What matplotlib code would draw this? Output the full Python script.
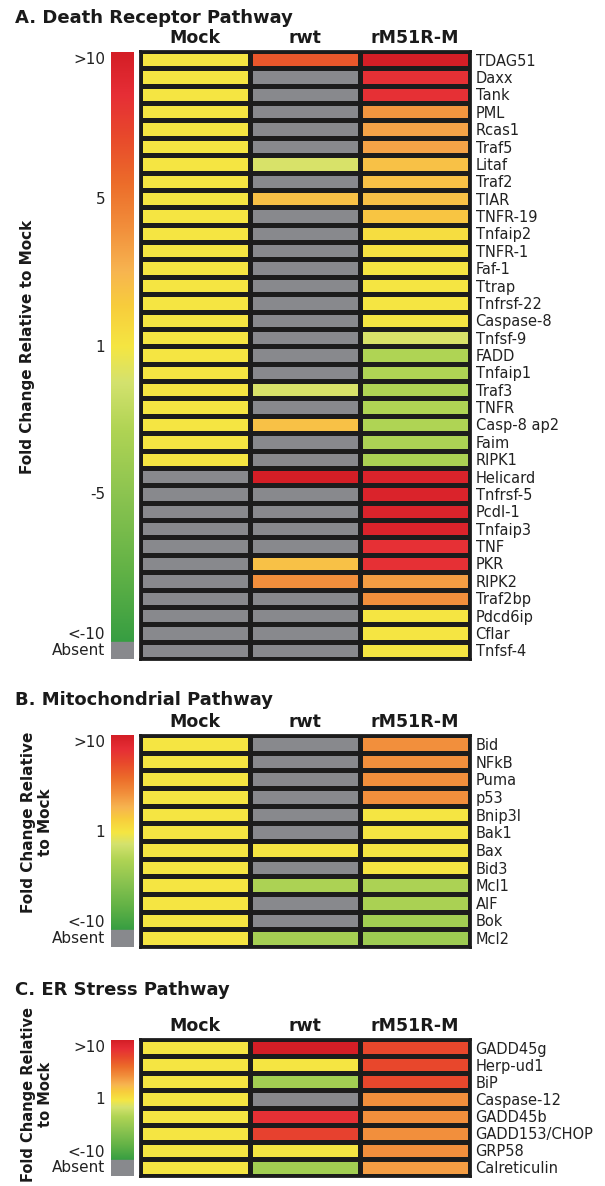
import numpy as np
import matplotlib
matplotlib.use('Agg')
import matplotlib.pyplot as plt
from matplotlib.colors import LinearSegmentedColormap
from matplotlib.patches import Rectangle

nan = np.nan

# fold change relative to mock (nan = absent)
columns = ['Mock', 'rwt', 'rM51R-M']

death_genes = ['TDAG51', 'Daxx', 'Tank', 'PML', 'Rcas1', 'Traf5', 'Litaf', 'Traf2',
               'TIAR', 'TNFR-19', 'Tnfaip2', 'TNFR-1', 'Faf-1', 'Ttrap', 'Tnfrsf-22',
               'Caspase-8', 'Tnfsf-9', 'FADD', 'Tnfaip1', 'Traf3', 'TNFR', 'Casp-8 ap2',
               'Faim', 'RIPK1', 'Helicard', 'Tnfrsf-5', 'Pcdl-1', 'Tnfaip3', 'TNF', 'PKR',
               'RIPK2', 'Traf2bp', 'Pdcd6ip', 'Cflar', 'Tnfsf-4']
death_mock = [1] * 24 + [nan] * 11
death_rwt = [6.5, nan, nan, nan, nan, nan, -0.3, nan, 2.6, nan, nan, nan, nan, nan, nan,
             nan, nan, nan, nan, -0.3, nan, 2.6, nan, nan, 10, nan, nan, nan, nan, 2.6,
             4.2, nan, nan, nan, nan]
death_m51r = [10, 8.5, 8.5, 4.0, 3.6, 3.6, 2.6, 2.6, 2.6, 2.4, 1.4, 1.2, 1, 1, 1,
              1, -0.3, -2.4, -2.4, -2.4, -2.4, -2.4, -2.6, -2.8, 9.5, 9.5, 9.5, 9.5, 8.5, 8.5,
              3.8, 4.2, 1, 1, 1]

mito_genes = ['Bid', 'NFkB', 'Puma', 'p53', 'Bnip3l', 'Bak1', 'Bax', 'Bid3', 'Mcl1',
              'AIF', 'Bok', 'Mcl2']
mito_mock = [1] * 12
mito_rwt = [nan, nan, nan, nan, nan, nan, 1, nan, -2.6, nan, nan, -3.2]
mito_m51r = [4.2, 4.2, 4.2, 4.2, 1, 1, 1, 1, -2.6, -2.8, -3.4, -3.6]

er_genes = ['GADD45g', 'Herp-ud1', 'BiP', 'Caspase-12', 'GADD45b', 'GADD153/CHOP',
            'GRP58', 'Calreticulin']
er_mock = [1] * 8
er_rwt = [10, 1, -3.4, nan, 8.5, 7.5, 1, -3.4]
er_m51r = [7.2, 7.2, 7.2, 4.2, 4.2, 4.2, 4.2, 3.8]

fc_ticks = [-10, -5, 1, 5, 10]
bar_pos = [0, 0.25, 0.5, 0.75, 1]

cmap = LinearSegmentedColormap.from_list('fold', [
    (0.00, (55/255, 158/255, 66/255)),
    (0.12, (98/255, 178/255, 70/255)),
    (0.25, (140/255, 196/255, 80/255)),
    (0.36, (176/255, 212/255, 84/255)),
    (0.44, (212/255, 226/255, 110/255)),
    (0.50, (245/255, 230/255, 66/255)),
    (0.57, (248/255, 205/255, 60/255)),
    (0.63, (247/255, 180/255, 80/255)),
    (0.70, (242/255, 144/255, 60/255)),
    (0.78, (236/255, 108/255, 42/255)),
    (0.86, (232/255, 72/255, 44/255)),
    (0.93, (230/255, 46/255, 54/255)),
    (1.00, (212/255, 30/255, 38/255))])
cmap.set_bad('#88898d')
absent_col = '#88898d'
txt_col = '#222222'

W, H = 605, 1186
fig = plt.figure(figsize=(W / 100, H / 100), dpi=100)


def box(x0, y0, x1, y1):
    return [x0 / W, 1 - y1 / H, (x1 - x0) / W, (y1 - y0) / H]


def to_bar(vals):
    v = np.array(vals, dtype=float)
    out = np.interp(np.nan_to_num(v), fc_ticks, bar_pos)
    return np.where(np.isnan(v), nan, out)


def heatmap(top, bottom, genes, mock, rwt, m51r):
    ax = fig.add_axes(box(140, top, 470, bottom))
    data = np.ma.masked_invalid(np.column_stack([to_bar(mock), to_bar(rwt), to_bar(m51r)]))
    n = len(genes)
    ax.pcolormesh(np.arange(4), np.arange(n + 1), data, cmap=cmap, vmin=0, vmax=1,
                  edgecolors='#1c1c1c', linewidth=2.2)
    ax.set_xlim(0, 3)
    ax.set_ylim(n, 0)
    ax.xaxis.tick_top()
    ax.set_xticks(np.arange(3) + 0.5, columns, fontweight='bold', fontsize=12.5, color='#1a1a1a')
    ax.yaxis.tick_right()
    ax.set_yticks(np.arange(n) + 0.5, genes, fontsize=10.5, color=txt_col)
    ax.tick_params(length=0, pad=3)
    ax.tick_params(axis='y', pad=4)
    for s in ax.spines.values():
        s.set_linewidth(2)
        s.set_color('#1c1c1c')
    return ax


def bar(top, grad_bottom, bottom, ticks):
    cax = fig.add_axes(box(111, top, 134, bottom))
    a = (bottom - grad_bottom) / (grad_bottom - top)
    cax.imshow(np.linspace(0, 1, 256)[:, None], aspect='auto', cmap=cmap,
               extent=[0, 1, 0, 1], origin='lower')
    cax.add_patch(Rectangle((0, -a), 1, a, color=absent_col))
    cax.set_xlim(0, 1)
    cax.set_ylim(-a, 1)
    cax.axis('off')
    tr = cax.get_yaxis_transform()
    for t in ticks:
        p = float(to_bar([t])[0])
        if t == 10:
            cax.text(-0.26, p, '>10', transform=tr, ha='right', va='top', fontsize=11, color=txt_col)
        elif t == -10:
            cax.text(-0.26, p, '<-10', transform=tr, ha='right', va='bottom', fontsize=11, color=txt_col)
        else:
            cax.text(-0.26, p, str(t), transform=tr, ha='right', va='center', fontsize=11, color=txt_col)
    cax.text(-0.26, -a / 2, 'Absent', transform=tr, ha='right', va='center', fontsize=11, color=txt_col)


# A. Death receptor
fig.text(15 / W, 1 - 18 / H, 'A. Death Receptor Pathway', fontsize=13, fontweight='bold',
         va='center', color='#1a1a1a')
heatmap(51, 659, death_genes, death_mock, death_rwt, death_m51r)
bar(52, 642, 659, [10, 5, 1, -5, -10])
fig.text(28 / W, 1 - 347 / H, 'Fold Change Relative to Mock', rotation=90, fontsize=11,
         fontweight='bold', ha='center', va='center', color='#1a1a1a')

# B. Mitochondrial
fig.text(15 / W, 1 - 700 / H, 'B. Mitochondrial Pathway', fontsize=13, fontweight='bold',
         va='center', color='#1a1a1a')
heatmap(735, 947, mito_genes, mito_mock, mito_rwt, mito_m51r)
bar(735, 930, 947, [10, 1, -10])
fig.text(37 / W, 1 - 822 / H, 'Fold Change Relative\nto Mock', rotation=90, fontsize=11,
         fontweight='bold', ha='center', va='center', multialignment='center', color='#1a1a1a')

# C. ER stress
fig.text(15 / W, 1 - 990 / H, 'C. ER Stress Pathway', fontsize=13, fontweight='bold',
         va='center', color='#1a1a1a')
heatmap(1039, 1176, er_genes, er_mock, er_rwt, er_m51r)
bar(1040, 1160, 1176, [10, 1, -10])
fig.text(37 / W, 1 - 1094 / H, 'Fold Change Relative\nto Mock', rotation=90, fontsize=10.5,
         fontweight='bold', ha='center', va='center', multialignment='center', color='#1a1a1a')

fig.savefig('out.png', dpi=100, facecolor='white')
